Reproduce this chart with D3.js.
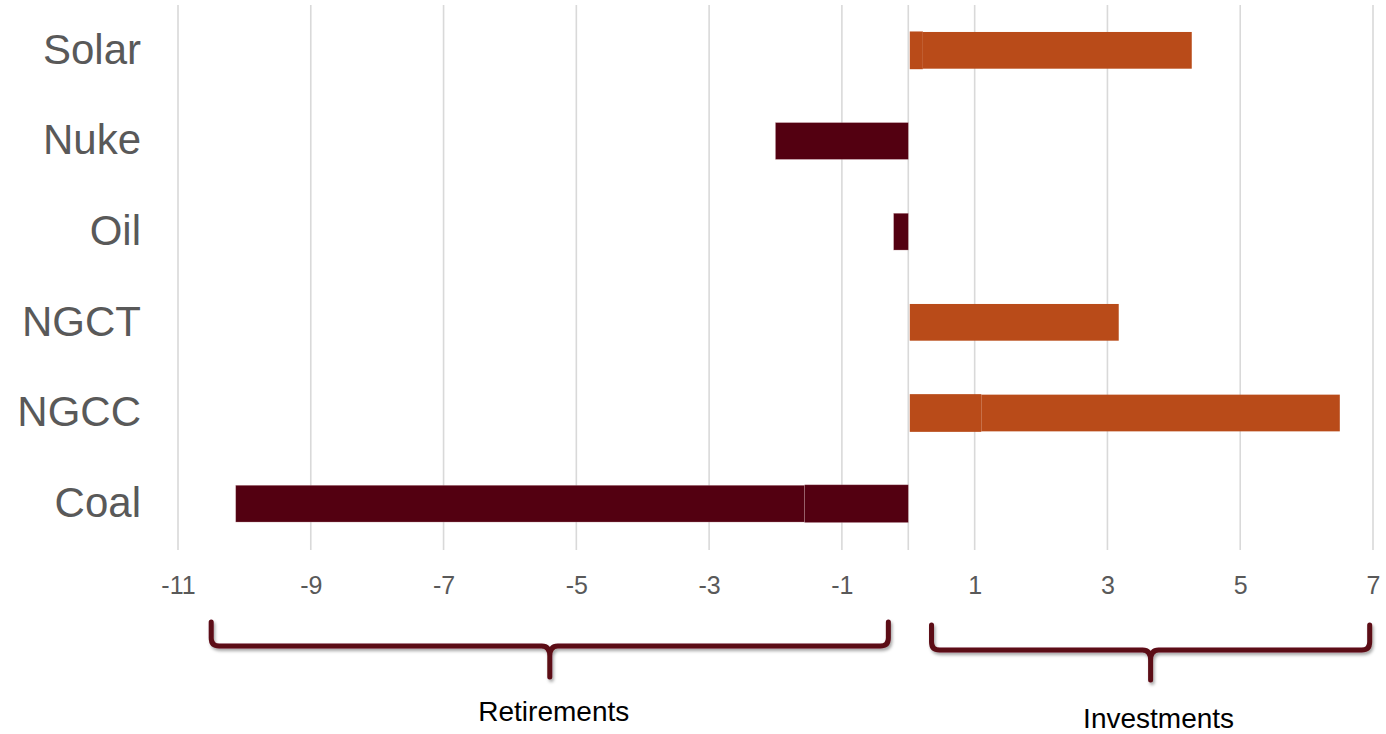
<!DOCTYPE html>
<html>
<head>
<meta charset="utf-8">
<script src="https://cdn.jsdelivr.net/npm/d3@7"></script>
<style>
  html, body { margin: 0; padding: 0; background: #ffffff; }
  svg { display: block; font-family: "Liberation Sans", Arial, sans-serif; }
</style>
</head>
<body>
<svg id="chart" width="1386" height="734"></svg>
<script>
// ---- data ----
const categories = ["Solar", "Nuke", "Oil", "NGCT", "NGCC", "Coal"];
// first (inner) segment starting at zero
const innerSegment = [0.22, 0, 0, 0, 1.1, -1.56];
// second (outer) segment stacked on the first
const outerSegment = [4.05, -2.0, -0.22, 3.17, 5.4, -8.57];
const tickValues = [-11, -9, -7, -5, -3, -1, 1, 3, 5, 7];
const braceLabels = ["Retirements", "Investments"];
const braceSpans = [[-10.5, -0.3], [0.35, 6.95]];

// ---- layout ----
const svg = d3.select("#chart");
const x = d3.scaleLinear().domain([-11, 7]).range([178, 1373]);
const y = d3.scaleBand().domain(categories).range([5, 549]).paddingInner(0.595).paddingOuter(0.2975);

const colPos = "#b94b19";
const colNeg = "#530011";
const braceCol = "#5c0a16";

// gridlines
svg.append("g").selectAll("line")
  .data(tickValues.concat([0]))
  .join("line")
  .attr("x1", d => x(d)).attr("x2", d => x(d))
  .attr("y1", 5).attr("y2", 550)
  .attr("stroke", "#d9d9d9").attr("stroke-width", 1.6);

// x axis labels
const xAxis = d3.axisBottom(x).tickValues(tickValues).tickSize(0).tickPadding(0)
  .tickFormat(d => String(d));
const gx = svg.append("g").attr("transform", "translate(0,576)").call(xAxis);
gx.select(".domain").remove();
gx.selectAll("text")
  .attr("font-size", 25).attr("fill", "#595959")
  .attr("font-family", "Liberation Sans, Arial, sans-serif")
  .attr("dy", "0.71em").attr("y", 0);

// y axis labels
const yAxis = d3.axisLeft(y).tickSize(0).tickPadding(0);
const gy = svg.append("g").attr("transform", "translate(141,0)").call(yAxis);
gy.select(".domain").remove();
gy.selectAll("text")
  .attr("font-size", 42).attr("fill", "#595959")
  .attr("font-family", "Liberation Sans, Arial, sans-serif");

// bars: stacked segments
const rows = categories.map((c, i) => ({ c, a: innerSegment[i], b: outerSegment[i] }));
const segs = [];
rows.forEach(r => {
  if (r.b !== 0) segs.push({ c: r.c, v0: r.a, v1: r.a + r.b, layer: 1 });
  if (r.a !== 0) segs.push({ c: r.c, v0: 0, v1: r.a, layer: 0 });
});
svg.append("g").selectAll("rect")
  .data(segs)
  .join("rect")
  .attr("x", d => x(Math.min(d.v0, d.v1)) + (Math.min(d.v0, d.v1) === 0 && Math.max(d.v0, d.v1) > 0 ? 1.5 : 0))
  .attr("width", d => Math.abs(x(d.v1) - x(d.v0)) - (Math.min(d.v0, d.v1) === 0 && Math.max(d.v0, d.v1) > 0 ? 1.5 : 0))
  .attr("y", d => y(d.c) - (d.layer === 0 ? 0.5 : 0))
  .attr("height", d => y.bandwidth() + (d.layer === 0 ? 1 : 0))
  .attr("fill", d => d.v1 < 0 ? colNeg : colPos)
  .attr("stroke", d => d.v1 < 0 ? "#c9a0a8" : "none")
  .attr("stroke-opacity", 0.5)
  .attr("stroke-width", 0.6);

// braces
const defs = svg.append("defs");
const f = defs.append("filter").attr("id", "shadow").attr("x", "-5%").attr("y", "-50%").attr("width", "110%").attr("height", "200%");
f.append("feDropShadow").attr("dx", 1.5).attr("dy", 2.5).attr("stdDeviation", 1.8).attr("flood-color", "#000").attr("flood-opacity", 0.35);

const braceTop = [622, 625];
const braceMid = [646, 650];
const braceTip = [677, 680];
const labelY = [711, 718];

function bracePath(x0, x1, top, mid, tip) {
  const xm = (x0 + x1) / 2;
  const r = 8;
  return `M${x0},${top} L${x0},${mid - r} Q${x0},${mid} ${x0 + r},${mid} L${xm - 8},${mid} Q${xm},${mid} ${xm},${mid + 10} L${xm},${tip}` +
         ` M${x1},${top} L${x1},${mid - r} Q${x1},${mid} ${x1 - r},${mid} L${xm + 8},${mid} Q${xm},${mid} ${xm},${mid + 10}`;
}

braceSpans.forEach((s, i) => {
  const x0 = x(s[0]), x1 = x(s[1]);
  svg.append("path")
    .attr("d", bracePath(x0, x1, braceTop[i], braceMid[i], braceTip[i]))
    .attr("fill", "none").attr("stroke", braceCol).attr("stroke-width", 5)
    .attr("stroke-linecap", "round").attr("stroke-linejoin", "round")
    .attr("filter", "url(#shadow)");
  svg.append("text")
    .attr("x", (x0 + x1) / 2 + (i === 0 ? 4 : 8)).attr("y", labelY[i])
    .attr("dy", "0.35em").attr("text-anchor", "middle")
    .attr("font-size", 28).attr("fill", "#000")
    .attr("transform-origin", "center")
    .text(braceLabels[i]);
});
</script>
</body>
</html>
